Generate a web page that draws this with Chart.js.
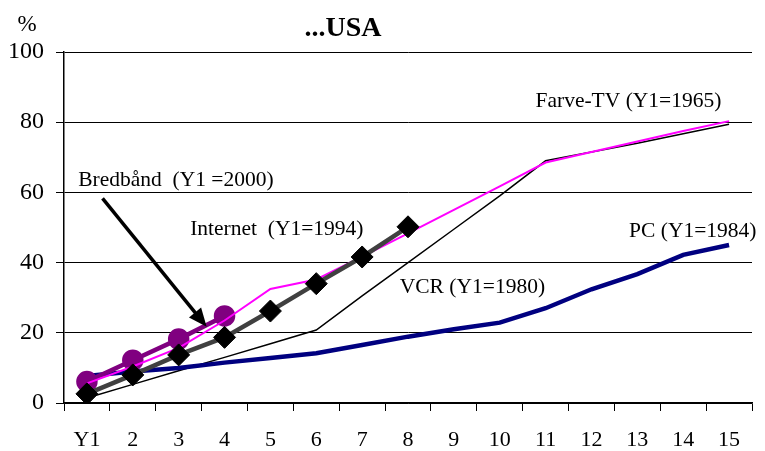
<!DOCTYPE html>
<html>
<head>
<meta charset="utf-8">
<script src="https://cdn.jsdelivr.net/npm/chart.js@4.4.1/dist/chart.umd.min.js"></script>
<style>
  body { margin: 0; background: #fff; }
</style>
</head>
<body>
<canvas id="chart" width="765" height="451"></canvas>
<script>
// kategorier (år efter introduktion)
var years = ['Y1', '2', '3', '4', '5', '6', '7', '8', '9', '10', '11', '12', '13', '14', '15'];

// udbredelse i % af husstande
var farveTV = [5.6, 10.4, 15.7, 23.5, 32.5, 35.2, 41.7, 48.3, 55, 61.7, 68.5, 71.5, 74.5, 77.5, 80.3];
var vcr = [1.4, 5.3, 9.2, 13.0, 16.9, 20.8, 30.5, 40, 49.5, 59, 69, 71.5, 74, 76.7, 79.4];
var pc = [7.7, 9, 10, 11.5, 12.8, 14.2, 16.5, 18.9, 21, 22.9, 27, 32.4, 36.7, 42.2, 45];
var internet = [2.6, 8, 13.7, 18.7, 26.2, 34, 41.6, 50.2];
var bredbaand = [6.1, 12.2, 18.2, 24.8];

var yTicks = [0, 20, 40, 60, 80, 100];

// tekster i diagrammet: [tekst, kategori-indeks, værdi]
var labels = [
    ['Bredbånd  (Y1 =2000)', -0.19, 61.8],
    ['Internet  (Y1=1994)', 2.25, 47.9],
    ['VCR (Y1=1980)', 6.82, 31.3],
    ['Farve-TV (Y1=1965)', 9.78, 84.4],
    ['PC (Y1=1984)', 11.82, 47.4]
];
// pil fra bredbånd-teksten ned til kurven
var arrowFrom = [0.34, 58.3];
var arrowTo = [2.61, 21.7];

var serif = '"Liberation Serif", "Times New Roman", serif';

var textPlugin = {
    id: 'texts',
    afterDatasetsDraw: function(chart) {
        var ctx = chart.ctx;
        var xs = chart.scales.x, ys = chart.scales.y;
        ctx.save();
        ctx.fillStyle = '#000';
        ctx.textBaseline = 'alphabetic';
        ctx.textAlign = 'left';
        ctx.font = '21.5px ' + serif;
        labels.forEach(function(l) {
            ctx.fillText(l[0], xs.getPixelForValue(l[1]), ys.getPixelForValue(l[2]));
        });

        // pil
        var x1 = xs.getPixelForValue(arrowFrom[0]), y1 = ys.getPixelForValue(arrowFrom[1]);
        var x2 = xs.getPixelForValue(arrowTo[0]), y2 = ys.getPixelForValue(arrowTo[1]);
        var a = Math.atan2(y2 - y1, x2 - x1);
        var head = 20;
        ctx.strokeStyle = '#000';
        ctx.lineWidth = 3.5;
        ctx.beginPath();
        ctx.moveTo(x1, y1);
        ctx.lineTo(x2 - Math.cos(a) * head * 0.8, y2 - Math.sin(a) * head * 0.8);
        ctx.stroke();
        ctx.beginPath();
        ctx.moveTo(x2, y2);
        ctx.lineTo(x2 - head * Math.cos(a - 0.4), y2 - head * Math.sin(a - 0.4));
        ctx.lineTo(x2 - head * Math.cos(a + 0.4), y2 - head * Math.sin(a + 0.4));
        ctx.closePath();
        ctx.fill();

        // titel og enhed
        ctx.font = 'bold 28px ' + serif;
        ctx.textAlign = 'center';
        ctx.fillText('...USA', 343, 36);
        ctx.font = '23px ' + serif;
        ctx.fillText('%', 27, 31);
        ctx.restore();
    }
};

var ctx = document.getElementById('chart').getContext('2d');
new Chart(ctx, {
    type: 'line',
    data: {
        labels: years,
        datasets: [{
            label: 'Internet',
            data: internet,
            borderColor: '#404040',
            borderWidth: 4.5,
            pointStyle: 'rectRot',
            pointRadius: 11,
            pointBackgroundColor: '#000',
            pointBorderColor: '#000',
            pointBorderWidth: 1,
            order: 0
        }, {
            label: 'Farve-TV',
            data: farveTV,
            borderColor: '#ff00ff',
            borderWidth: 2,
            pointRadius: 0,
            order: 1
        }, {
            label: 'Bredbånd',
            data: bredbaand,
            borderColor: '#800080',
            borderWidth: 4.5,
            pointStyle: 'circle',
            pointRadius: 8.5,
            pointBackgroundColor: '#800080',
            pointBorderColor: '#800080',
            order: 2
        }, {
            label: 'PC',
            data: pc,
            borderColor: '#000080',
            borderWidth: 4.5,
            pointRadius: 0,
            order: 3
        }, {
            label: 'VCR',
            data: vcr,
            borderColor: '#000',
            borderWidth: 1.5,
            pointRadius: 0,
            order: 4
        }]
    },
    options: {
        responsive: false,
        animation: false,
        events: [],
        layout: { padding: { top: 52, right: 3, left: 0, bottom: 0 } },
        plugins: {
            legend: { display: false },
            tooltip: { enabled: false }
        },
        elements: { line: { tension: 0 } },
        scales: {
            x: {
                offset: true,
                afterFit: function(s) { s.height = 48; },
                grid: {
                    offset: true,
                    drawOnChartArea: false,
                    tickLength: 8,
                    color: '#000'
                },
                border: { color: '#000', width: 1.5 },
                ticks: {
                    color: '#000',
                    padding: 16,
                    maxRotation: 0,
                    autoSkip: false,
                    font: { family: serif, size: 22 }
                }
            },
            y: {
                min: 0,
                max: 100,
                afterFit: function(s) { s.width = 64; },
                afterBuildTicks: function(s) {
                    s.ticks = yTicks.map(function(v) { return { value: v }; });
                },
                grid: {
                    color: '#000',
                    lineWidth: 1,
                    tickLength: 8
                },
                border: { color: '#000', width: 1.5 },
                ticks: {
                    color: '#000',
                    padding: 12,
                    font: { family: serif, size: 24 }
                }
            }
        }
    },
    plugins: [textPlugin]
});
</script>
</body>
</html>
